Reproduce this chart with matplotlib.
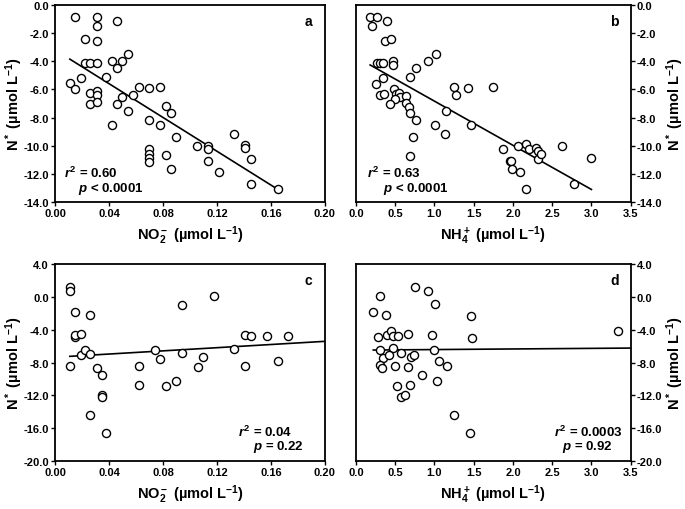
"""N* versus NO2- and NH4+ : four-panel scatter with linear fits."""

import matplotlib
matplotlib.use("Agg")
import matplotlib.pyplot as plt
import numpy as np

plt.rcParams['font.family'] = ['Liberation Sans', 'DejaVu Sans']
plt.rcParams['font.weight'] = 'bold'
plt.rcParams['mathtext.fontset'] = 'custom'
plt.rcParams['mathtext.rm'] = 'Liberation Sans:bold'
plt.rcParams['mathtext.bf'] = 'Liberation Sans:bold'
plt.rcParams['mathtext.it'] = 'Liberation Sans:italic:bold'

# ════════════════════════════════════════════════════════════════════════════
# DATA
# ════════════════════════════════════════════════════════════════════════════

# panel a: N* vs NO2-
a_x = [0.015, 0.031, 0.031, 0.046, 0.0225, 0.031, 0.0225, 0.026, 0.031, 0.042,
       0.046, 0.050, 0.054, 0.011, 0.015, 0.019, 0.038, 0.026, 0.031, 0.031,
       0.026, 0.031, 0.046, 0.050, 0.054, 0.058, 0.062, 0.042, 0.070, 0.070,
       0.078, 0.078, 0.082, 0.086, 0.090, 0.070, 0.070, 0.070, 0.070, 0.082,
       0.086, 0.105, 0.1136, 0.1136, 0.1136, 0.1215, 0.133, 0.141, 0.141, 0.145,
       0.145, 0.165]
a_y = [-0.88, -0.88, -1.47, -1.16, -2.42, -2.54, -4.13, -4.15, -4.15, -3.99,
       -4.46, -3.99, -3.51, -5.55, -6.00, -5.15, -5.10, -6.22, -6.10, -6.40,
       -7.00, -6.88, -7.00, -6.55, -7.52, -6.36, -5.79, -8.50, -5.88, -8.16,
       -5.84, -8.52, -7.17, -7.69, -9.37, -10.25, -10.56, -10.87, -11.15, -10.68,
       -11.63, -10.01, -10.01, -10.25, -11.06, -11.84, -9.16, -9.92, -10.16, -10.92,
       -12.74, -13.10]
a_fit = (-60.1, -3.18)   # slope, intercept

# panel b: N* vs NH4+
b_x = [0.18, 0.27, 0.20, 0.40, 0.37, 0.44, 0.27, 0.30, 0.34, 0.47,
       0.47, 0.77, 0.92, 1.02, 0.26, 0.35, 0.69, 0.30, 0.36, 0.48,
       0.51, 0.55, 0.56, 0.50, 0.43, 0.64, 0.64, 0.67, 0.69, 0.76,
       0.72, 0.69, 1.01, 1.15, 1.13, 1.25, 1.28, 1.43, 1.46, 1.74,
       1.87, 1.96, 1.98, 1.99, 2.07, 2.09, 2.17, 2.20, 2.17, 2.29,
       2.32, 2.32, 2.36, 2.63, 2.78, 3.00]
b_y = [-0.88, -0.88, -1.47, -1.16, -2.54, -2.42, -4.13, -4.13, -4.15, -3.99,
       -4.27, -4.46, -3.99, -3.51, -5.58, -5.15, -5.10, -6.38, -6.34, -5.98,
       -6.29, -6.22, -6.50, -6.69, -7.00, -6.43, -6.98, -7.24, -7.69, -8.16,
       -9.37, -10.70, -8.50, -7.52, -9.16, -5.79, -6.38, -5.88, -8.52, -5.84,
       -10.25, -11.08, -11.08, -11.63, -10.01, -11.84, -9.90, -10.25, -13.10, -10.16,
       -10.37, -10.92, -10.56, -10.01, -12.74, -10.87]
b_fit = (-3.14, -3.69)

# panel c: N* vs NO2-
c_x = [0.011, 0.011, 0.011, 0.015, 0.026, 0.015, 0.015, 0.019, 0.019, 0.0225,
       0.026, 0.031, 0.035, 0.035, 0.035, 0.026, 0.038, 0.062, 0.062, 0.074,
       0.078, 0.082, 0.090, 0.094, 0.094, 0.1057, 0.1096, 0.1175, 0.133, 0.141,
       0.145, 0.141, 0.157, 0.165, 0.173]
c_y = [1.24, 0.76, -8.36, -1.80, -2.20, -4.92, -4.63, -4.47, -7.07, -6.46,
       -6.90, -8.67, -9.50, -12.00, -12.13, -14.36, -16.55, -8.36, -10.70, -6.42,
       -7.51, -10.86, -10.30, -0.92, -6.86, -8.57, -7.35, 0.07, -6.34, -4.63,
       -4.72, -8.36, -4.72, -7.84, -4.80]
c_fit = (9.68, -7.34)

# panel d: N* vs NH4+
d_x = [0.22, 0.31, 0.38, 0.75, 0.92, 1.01, 1.46, 1.48, 3.34, 0.28,
       0.39, 0.45, 0.47, 0.54, 0.66, 0.97, 0.31, 0.47, 1.00, 0.35,
       0.42, 0.57, 0.70, 0.74, 0.30, 0.33, 0.50, 0.66, 1.06, 1.16,
       0.84, 1.03, 0.52, 0.69, 0.57, 0.62, 1.25, 1.45]
d_y = [-1.80, 0.07, -2.20, 1.24, 0.76, -0.82, -2.36, -4.96, -4.15, -4.92,
       -4.63, -4.15, -4.80, -4.80, -4.47, -4.63, -6.46, -6.26, -6.46, -7.47,
       -7.07, -6.86, -7.31, -7.07, -8.28, -8.69, -8.36, -8.53, -7.84, -8.36,
       -9.50, -10.30, -10.80, -10.67, -12.13, -11.93, -14.36, -16.55]
d_fit = (0.073, -6.48)

no2_ticks = [0.00, 0.04, 0.08, 0.12, 0.16, 0.20]
nh4_ticks = [0.0, 0.5, 1.0, 1.5, 2.0, 2.5, 3.0, 3.5]
top_yticks = [0.0, -2.0, -4.0, -6.0, -8.0, -10.0, -12.0, -14.0]
bot_yticks = [4.0, 0.0, -4.0, -8.0, -12.0, -16.0, -20.0]

NO2_LABEL = r"NO$_2^-$ (µmol L$^{-1}$)"
NH4_LABEL = r"NH$_4^+$ (µmol L$^{-1}$)"
NSTAR_LABEL = r"N$^*$ (µmol L$^{-1}$)"

panels = [
    # letter, x, y, fit, xticks, xfmt, yticks, side, xlabel, stats
    ("a", a_x, a_y, a_fit, no2_ticks, "%.2f", top_yticks, "left", NO2_LABEL,
     [(0.035, 0.15, r"$r^2$ = 0.60", "left"), (0.085, 0.072, r"$p$ < 0.0001", "left")]),
    ("b", b_x, b_y, b_fit, nh4_ticks, "%.1f", top_yticks, "right", NH4_LABEL,
     [(0.04, 0.15, r"$r^2$ = 0.63", "left"), (0.10, 0.072, r"$p$ < 0.0001", "left")]),
    ("c", c_x, c_y, c_fit, no2_ticks, "%.2f", bot_yticks, "left", NO2_LABEL,
     [(0.88, 0.15, r"$r^2$ = 0.04", "right"), (0.92, 0.075, r"$p$ = 0.22", "right")]),
    ("d", d_x, d_y, d_fit, nh4_ticks, "%.1f", bot_yticks, "right", NH4_LABEL,
     [(0.97, 0.15, r"$r^2$ = 0.0003", "right"), (0.935, 0.075, r"$p$ = 0.92", "right")]),
]

positions = {
    "a": [0.0803, 0.602, 0.394, 0.386],
    "b": [0.5197, 0.602, 0.401, 0.386],
    "c": [0.0803, 0.094, 0.394, 0.386],
    "d": [0.5197, 0.094, 0.401, 0.386],
}

# ════════════════════════════════════════════════════════════════════════════
# PLOT
# ════════════════════════════════════════════════════════════════════════════

fig = plt.figure(figsize=(6.85, 5.10), dpi=100)

for letter, x, y, fit, xticks, xfmt, yticks, side, xlabel, stats in panels:
    ax = fig.add_axes(positions[letter])
    x = np.array(x)
    y = np.array(y)

    ax.scatter(x, y, s=34, facecolors='white', edgecolors='black',
               linewidths=1.0, zorder=3, clip_on=False)

    slope, intercept = fit
    xl = np.array([x.min(), max(xticks) if letter in "cd" else x.max()])
    ax.plot(xl, slope * xl + intercept, color='black', linewidth=1.2, zorder=2)

    ax.set_xlim(xticks[0], xticks[-1])
    ax.set_ylim(min(yticks), max(yticks))
    ax.set_xticks(xticks)
    ax.set_yticks(yticks)
    ax.set_xticklabels([xfmt % t for t in xticks])
    ax.set_yticklabels(["%.1f" % t for t in yticks])

    ax.tick_params(direction='out', length=3, width=1, labelsize=8, pad=1.5)
    if side == "right":
        ax.yaxis.tick_right()
        ax.yaxis.set_label_position("right")
    for sp in ax.spines.values():
        sp.set_linewidth(1.3)

    ax.set_xlabel(xlabel, fontsize=10.5, fontweight='bold', labelpad=4)
    ax.set_ylabel(NSTAR_LABEL, fontsize=10.5, fontweight='bold',
                  va='center', ha='center', rotation=90)
    # label centres: ~13 px left of panel a/c, ~677 px for b/d
    if side == "left":
        ax.yaxis.set_label_coords(-0.152, 0.5)
    else:
        ax.yaxis.set_label_coords(1.162, 0.5)

    ax.text(0.94, 0.92, letter, transform=ax.transAxes, fontsize=10,
            fontweight='bold', ha='center', va='center')
    for tx, ty, s, ha in stats:
        ax.text(tx, ty, s, transform=ax.transAxes, fontsize=9.5,
                fontweight='bold', ha=ha, va='center')

fig.savefig("out.png", dpi=100)
plt.close()
